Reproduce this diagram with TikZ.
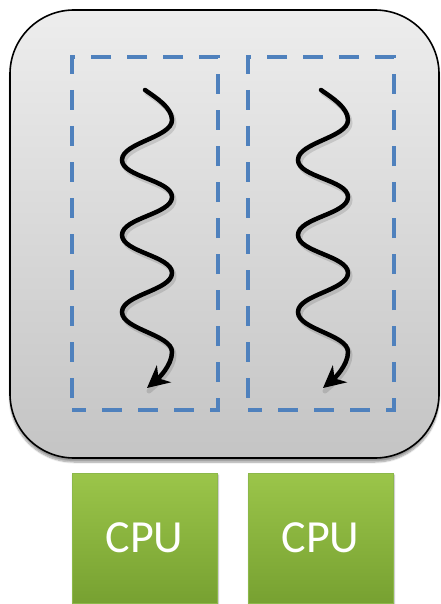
\documentclass[tikz,border=0pt]{standalone}
\usepackage{fontspec}
\newfontfamily\carlito{Carlito}
\usetikzlibrary{arrows.meta,shadows,shadows.blur}
\definecolor{threadblue}{HTML}{4F81BD}
\definecolor{cputop}{HTML}{9BC54A}
\definecolor{cpubot}{HTML}{77A131}
\definecolor{cpuedge}{HTML}{8CB84A}
\definecolor{boxtop}{HTML}{EDEDED}
\definecolor{boxbot}{HTML}{C4C4C4}
\tikzset{
  outerbox/.style={draw=black, line width=1.6pt, rounded corners=64pt,
    top color=boxtop, bottom color=boxbot,
    blur shadow={shadow xshift=0pt, shadow yshift=-4pt, shadow blur steps=8, shadow opacity=40},
    minimum width=429pt, minimum height=448pt, inner sep=0pt},
  threadbox/.style={draw=threadblue, line width=4pt, dash pattern=on 20pt off 16pt, dash phase=6pt,
    minimum width=146pt, minimum height=353pt, inner sep=0pt},
  cpubox/.style={draw=cpuedge, line width=1pt, top color=cputop, bottom color=cpubot,
    blur shadow={shadow xshift=1pt, shadow yshift=-2pt, shadow blur steps=6, shadow opacity=35},
    minimum width=145pt, minimum height=130pt, inner sep=0pt,
    text=white, font=\carlito\fontsize{46}{50}\selectfont},
  wave/.style={line width=4.5pt, line cap=round, black,
    -{Stealth[length=22pt,width=22pt,inset=7pt]}},
  waveshadow/.style={line width=5pt, line cap=round, black, opacity=0.12},
}
\begin{document}
\begin{tikzpicture}[x=1pt,y=-1pt]
\useasboundingbox (0,0) rectangle (440,604);
\node[outerbox] (proc) at (224.5,234) {};
\node[threadbox] (t1) at (145,233.5) {};
\node[threadbox] (t2) at (321,233.5) {};
\node[cpubox] (c1) at (144.5,538) {CPU};
\node[cpubox] (c2) at (320.5,538) {CPU};
\foreach \dx in {0,176}{
  \foreach \st/\sx/\sy in {waveshadow/2/3, wave/0/0}{
  \begin{scope}[xshift=\dx+\sx, yshift=-\sy]
  \draw[\st] (145,90) to[out=-35,in=90,looseness=0.8] (172,120)
     to[out=-90,in=90,looseness=0.7] (122,160)
     to[out=-90,in=90,looseness=0.7] (172,197)
     to[out=-90,in=90,looseness=0.7] (122,235)
     to[out=-90,in=90,looseness=0.7] (172,273)
     to[out=-90,in=90,looseness=0.7] (122,312)
     to[out=-90,in=90,looseness=0.7] (172,352)
     to[out=-90,in=40,looseness=0.8] (147,388);
  \end{scope}
  }
}
\end{tikzpicture}
\end{document}
